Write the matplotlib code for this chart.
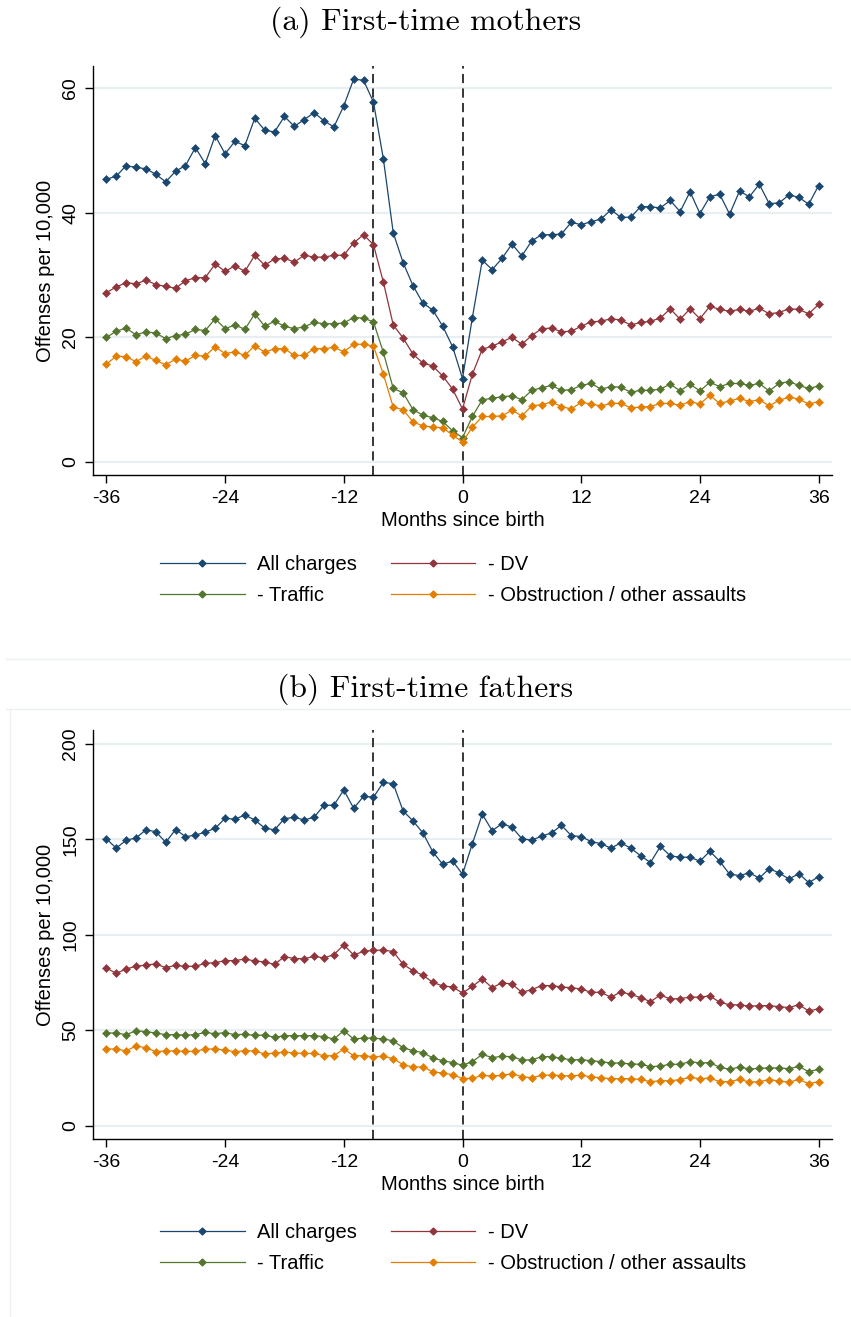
import numpy as np
import matplotlib
matplotlib.use("Agg")
import matplotlib.pyplot as plt
from matplotlib.lines import Line2D

# ---------------------------------------------------------------
# Data: offenses per 10,000, by month relative to first birth
# ---------------------------------------------------------------
months = np.arange(-36, 37)

mothers_all = [
    45.4, 45.9, 47.6, 47.3, 47.1, 46.2, 45.0, 46.7, 47.6, 50.5,
    47.9, 52.4, 49.5, 51.5, 50.8, 55.2, 53.3, 53.0, 55.5, 53.9,
    55.0, 56.1, 54.8, 53.8, 57.2, 61.5, 61.3, 57.8,
    48.7, 36.8, 32.0, 28.3, 25.5, 24.4, 21.8, 18.5,
    13.4,
    23.2, 32.4, 30.9, 32.7, 35.0, 33.1, 35.5, 36.5, 36.5, 36.6,
    38.5, 38.1, 38.6, 39.0, 40.5, 39.3, 39.3, 41.0, 41.0, 40.8,
    42.0, 40.2, 43.4, 39.9, 42.6, 43.0, 39.8, 43.5, 42.6, 44.6,
    41.5, 41.6, 42.9, 42.5, 41.4, 44.4,
]
mothers_dv = [
    27.2, 28.1, 28.8, 28.6, 29.2, 28.5, 28.2, 27.9, 29.1, 29.6,
    29.6, 31.8, 30.6, 31.5, 30.6, 33.2, 31.6, 32.6, 32.7, 32.1,
    33.2, 32.9, 32.9, 33.2, 33.2, 35.2, 36.5, 34.9,
    28.9, 22.0, 19.9, 17.3, 15.9, 15.4, 13.8, 11.7,
    8.5,
    14.1, 18.1, 18.6, 19.3, 20.0, 18.9, 20.3, 21.4, 21.5, 20.9,
    21.0, 21.8, 22.5, 22.6, 23.0, 22.8, 22.0, 22.4, 22.6, 23.1,
    24.6, 22.9, 24.6, 23.0, 25.0, 24.5, 24.2, 24.5, 24.2, 24.7,
    23.8, 24.0, 24.6, 24.5, 23.8, 25.3,
]
mothers_traffic = [
    20.0, 21.0, 21.5, 20.4, 20.9, 20.7, 19.8, 20.3, 20.5, 21.3,
    21.1, 23.0, 21.4, 22.0, 21.3, 23.8, 21.8, 22.6, 21.8, 21.4,
    21.7, 22.4, 22.2, 22.2, 22.3, 23.2, 23.1, 22.5,
    17.6, 11.8, 11.1, 8.4, 7.5, 7.1, 6.5, 5.0,
    3.9,
    7.3, 10.0, 10.2, 10.5, 10.6, 10.0, 11.5, 11.9, 12.3, 11.5,
    11.6, 12.3, 12.6, 11.7, 12.1, 12.0, 11.2, 11.5, 11.5, 11.7,
    12.5, 11.4, 12.5, 11.4, 12.8, 12.1, 12.6, 12.6, 12.3, 12.6,
    11.4, 12.6, 12.9, 12.3, 11.8, 12.2,
]
mothers_obstruction = [
    15.7, 17.0, 16.9, 16.1, 17.0, 16.3, 15.6, 16.5, 16.2, 17.1,
    17.0, 18.5, 17.4, 17.7, 17.1, 18.7, 17.6, 18.2, 18.2, 17.1,
    17.1, 18.2, 18.2, 18.4, 17.7, 18.9, 18.9, 18.6,
    14.1, 8.8, 8.4, 6.4, 5.8, 5.6, 5.5, 4.3,
    3.2,
    5.6, 7.3, 7.3, 7.4, 8.3, 7.4, 9.0, 9.2, 9.6, 8.9,
    8.5, 9.6, 9.3, 9.0, 9.4, 9.4, 8.7, 8.8, 8.9, 9.4,
    9.4, 9.1, 9.7, 9.3, 10.7, 9.4, 9.8, 10.2, 9.7, 10.0,
    9.0, 9.9, 10.4, 10.1, 9.3, 9.7,
]

fathers_all = [
    150.3, 145.5, 149.6, 150.8, 155.0, 154.1, 148.5, 155.2, 151.5, 152.2,
    153.9, 155.8, 161.1, 160.6, 162.8, 160.2, 156.0, 155.0, 160.9, 161.6,
    160.2, 161.6, 167.9, 167.9, 175.9, 166.3, 172.6, 172.1,
    179.9, 179.2, 164.9, 159.7, 153.4, 143.5, 137.0, 138.7,
    131.8,
    147.8, 163.2, 154.6, 158.3, 156.4, 150.4, 149.6, 151.8, 153.4, 157.4,
    152.0, 151.5, 148.9, 147.8, 145.4, 148.2, 145.5, 141.5, 137.9, 146.4,
    141.4, 140.7, 140.7, 138.6, 143.8, 138.6, 131.8, 131.1, 132.5, 129.8,
    134.7, 132.5, 129.3, 132.1, 127.4, 130.5,
]
fathers_dv = [
    82.7, 79.9, 82.2, 83.6, 84.3, 84.8, 82.9, 84.1, 83.6, 83.6,
    85.2, 85.5, 86.6, 86.6, 87.4, 86.4, 85.9, 84.6, 88.7, 87.6,
    87.6, 88.8, 88.0, 89.7, 94.8, 89.5, 91.4, 92.0,
    92.1, 91.3, 84.6, 81.3, 78.9, 75.2, 73.3, 72.8,
    69.6,
    73.1, 77.0, 72.4, 75.0, 74.3, 70.0, 71.4, 73.5, 73.5, 72.8,
    72.4, 71.7, 70.0, 70.0, 67.4, 70.2, 68.9, 67.2, 65.1, 68.6,
    66.5, 66.7, 67.5, 67.4, 68.2, 64.7, 63.5, 63.4, 62.7, 63.0,
    63.0, 62.5, 62.0, 63.5, 60.2, 61.4,
]
fathers_traffic = [
    48.7, 48.7, 47.8, 49.9, 49.4, 48.7, 47.8, 47.8, 47.6, 47.8,
    49.0, 48.3, 48.9, 47.8, 48.0, 47.5, 47.6, 46.4, 47.3, 47.3,
    47.3, 47.3, 46.8, 45.5, 49.9, 45.5, 46.1, 45.9,
    45.7, 44.5, 41.0, 39.4, 38.4, 35.6, 34.2, 33.2,
    31.8,
    33.7, 37.5, 35.8, 36.5, 36.3, 34.6, 34.6, 36.3, 36.3, 35.4,
    34.7, 34.7, 34.2, 33.7, 33.0, 33.0, 32.5, 32.3, 31.1, 31.4,
    32.3, 32.3, 33.7, 33.0, 33.2, 30.7, 29.7, 30.9, 29.8, 30.2,
    30.4, 30.4, 30.0, 31.2, 28.4, 29.7,
]
fathers_obstruction = [
    40.3, 40.3, 39.3, 41.9, 41.0, 38.9, 39.3, 39.3, 39.1, 39.1,
    40.3, 40.3, 39.8, 38.9, 39.4, 39.3, 37.7, 38.2, 38.7, 38.2,
    38.0, 38.0, 36.8, 36.8, 40.3, 36.8, 36.8, 36.3,
    36.5, 35.3, 32.1, 30.9, 30.9, 28.4, 27.7, 26.9,
    24.8,
    25.0, 26.5, 26.2, 26.5, 27.4, 25.8, 25.3, 26.5, 26.7, 26.4,
    26.2, 26.7, 25.7, 25.3, 24.8, 24.8, 24.8, 24.4, 23.2, 23.7,
    23.7, 24.3, 25.5, 24.8, 25.1, 23.2, 23.2, 24.4, 23.0, 23.2,
    24.3, 23.6, 22.9, 24.4, 22.2, 23.2,
]

series_labels = ["All charges", "- DV", "- Traffic", "- Obstruction / other assaults"]
series_colors = ["#1a476f", "#90353b", "#55752f", "#e37e00"]
x_ticks = [-36, -24, -12, 0, 12, 24, 36]
event_lines = [-9, 0]

mothers_ticks = [0, 20, 40, 60]
fathers_ticks = [0, 50, 100, 150, 200]

# ---------------------------------------------------------------
# Figure
# ---------------------------------------------------------------
W, H = 851, 1317
fig = plt.figure(figsize=(W / 100, H / 100), dpi=100)
fig.patch.set_facecolor("white")

sans = ["Liberation Sans", "DejaVu Sans"]
title_font = dict(family=["cmr10", "DejaVu Serif"], size=22.8)
tick_size = 14
label_size = 14.5


def px_rect(left, top, right, bottom):
    return [left / W, 1 - bottom / H, (right - left) / W, (bottom - top) / H]


def draw_panel(rect, title, title_y, data, yticks, ylim, legend_y):
    ax = fig.add_axes(rect)
    for vals, col in zip(data, series_colors):
        ax.plot(months, vals, color=col, lw=0.9, marker="D", ms=3.8,
                mec=col, mfc=col, mew=0.4, zorder=3)
    for xv in event_lines:
        ax.axvline(xv, color="black", lw=1.1, ls=(0, (6, 3.5)), zorder=2)
    ax.set_xlim(-37.35, 37.35)
    ax.set_ylim(*ylim)
    ax.set_xticks(x_ticks)
    ax.set_xticklabels([str(t) for t in x_ticks])
    ax.set_yticks(yticks)
    ax.set_yticklabels([str(t) for t in yticks], rotation=90, va="center")
    for yv in yticks:
        ax.axhline(yv, color="#e8eef1", lw=1.6, zorder=1)
    for s in ["top", "right"]:
        ax.spines[s].set_visible(False)
    for s in ["left", "bottom"]:
        ax.spines[s].set_linewidth(1.0)
        ax.spines[s].set_color("black")
    ax.tick_params(axis="both", direction="out", length=6, width=1.0,
                   labelsize=tick_size, colors="black")
    ax.tick_params(axis="y", pad=4)
    ax.tick_params(axis="x", pad=5)
    for lab in ax.get_xticklabels() + ax.get_yticklabels():
        lab.set_family(sans)
    ax.set_xlabel("Months since birth", fontsize=label_size, family=sans,
                  labelpad=3)
    ax.set_ylabel("Offenses per 10,000", fontsize=label_size, family=sans,
                  labelpad=5)

    fig.text(0.5, 1 - title_y / H, title, ha="center", va="center",
             **title_font)

    # legend filled column by column, so order entries to read row-wise
    order = [0, 2, 1, 3]
    handles = [Line2D([0], [0], color=series_colors[i], lw=0.9, marker="D",
                      ms=3.5, mec=series_colors[i], mfc=series_colors[i])
               for i in order]
    labels = [series_labels[i] for i in order]
    fig.legend(handles, labels, ncol=2, frameon=False,
               loc="upper left",
               bbox_to_anchor=(150 / W, 1 - legend_y / H),
               prop=dict(family=sans, size=label_size),
               handlelength=4.2, handletextpad=0.6, columnspacing=1.7,
               labelspacing=0.6, numpoints=1, borderpad=0)
    return ax


draw_panel(px_rect(93, 66, 832, 475), "(a) First-time mothers", 22,
           [mothers_all, mothers_dv, mothers_traffic, mothers_obstruction],
           mothers_ticks, (-2.1, 63.6), 545)

draw_panel(px_rect(93, 730, 832, 1139), "(b) First-time fathers", 689,
           [fathers_all, fathers_dv, fathers_traffic, fathers_obstruction],
           fathers_ticks, (-6.8, 207.3), 1213)

# faint outline of the lower graph region
edge = "#edf0f2"
fig.add_artist(Line2D([6 / W, 1], [1 - 659 / H, 1 - 659 / H], color=edge, lw=1.0))
fig.add_artist(Line2D([6 / W, 1], [1 - 709 / H, 1 - 709 / H], color=edge, lw=1.0))
fig.add_artist(Line2D([10 / W, 10 / W], [0, 1 - 709 / H], color=edge, lw=1.0))

fig.savefig("out.png", dpi=100, facecolor="white")
